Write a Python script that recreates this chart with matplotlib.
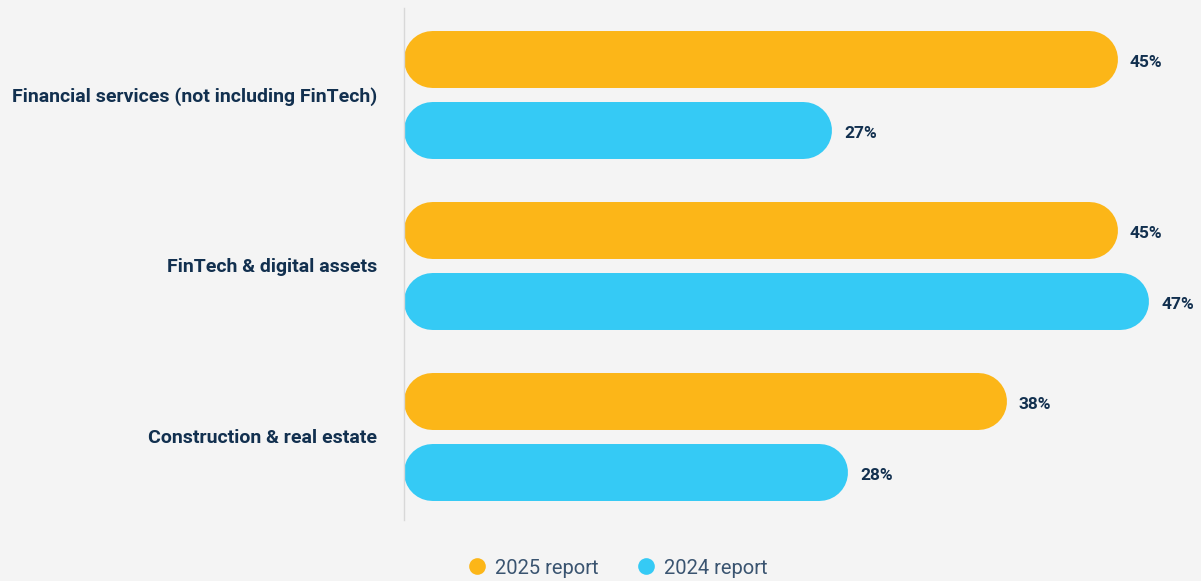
import matplotlib.pyplot as plt
from matplotlib.lines import Line2D

categories = ["Financial services (not including FinTech)", "FinTech & digital assets", "Construction & real estate"]
report_2025 = [45, 45, 38]
report_2024 = [27, 47, 28]
series_names = ["2025 report", "2024 report"]

ORANGE = "#FCB618"
BLUE = "#35CAF5"
NAVY = "#12304F"
BG = "#F4F4F4"

plt.rcParams['font.family'] = ['Roboto', 'DejaVu Sans']

fig = plt.figure(figsize=(12.01, 5.81), dpi=100, facecolor=BG)
# axes in pixel terms: x from 404 (0%) at 15.85 px per %, y from 8 to 520
ax = fig.add_axes([404 / 1201, 1 - 520 / 581, 792.5 / 1201, 512 / 581])
ax.set_facecolor(BG)
ax.set_xlim(0, 50)
ax.set_ylim(2.49, -0.503)

bar_h = 0.333
offset = 0.2076

# bars drawn as thick lines with round caps -> pill shapes
fig.canvas.draw()
p0 = ax.transData.transform((0, 0))
p1 = ax.transData.transform((1, 1))
px_x = abs(p1[0] - p0[0])
px_y = abs(p1[1] - p0[1])
bar_px = bar_h * px_y
lw_pt = bar_px * 72 / fig.dpi
r = (bar_px / 2) / px_x  # cap radius in x units

for i, cat in enumerate(categories):
    for vals, col, off in [(report_2025, ORANGE, -offset), (report_2024, BLUE, offset)]:
        v = vals[i]
        y = i + off
        ax.plot([r, v - r], [y, y], color=col, lw=lw_pt, solid_capstyle="round")
        ax.text(v + 0.8, y + 0.025, f"{v}%", va="center", ha="left",
                fontsize=12.5, fontweight="bold", color=NAVY)

ax.set_yticks(range(len(categories)))
ax.set_yticklabels(categories, fontsize=14, fontweight="bold", color=NAVY)
ax.tick_params(axis="y", length=0, pad=19.5)
ax.set_xticks([])
for s in ["top", "right", "bottom"]:
    ax.spines[s].set_visible(False)
ax.spines["left"].set_color("#D8D8D8")
ax.spines["left"].set_linewidth(1)

handles = [Line2D([], [], marker="o", ls="none", ms=12, color=c, mec="none") for c in (ORANGE, BLUE)]
fig.legend(handles, series_names, loc="center", bbox_to_anchor=(617.5 / 1201, 1 - 568 / 581),
           ncol=2, frameon=False, labelcolor="#3A5470",
           prop={"size": 14.5, "weight": "normal"},
           handletextpad=0.45, columnspacing=1.9, handlelength=0.9)

fig.savefig("out.png", dpi=100, facecolor=BG)
